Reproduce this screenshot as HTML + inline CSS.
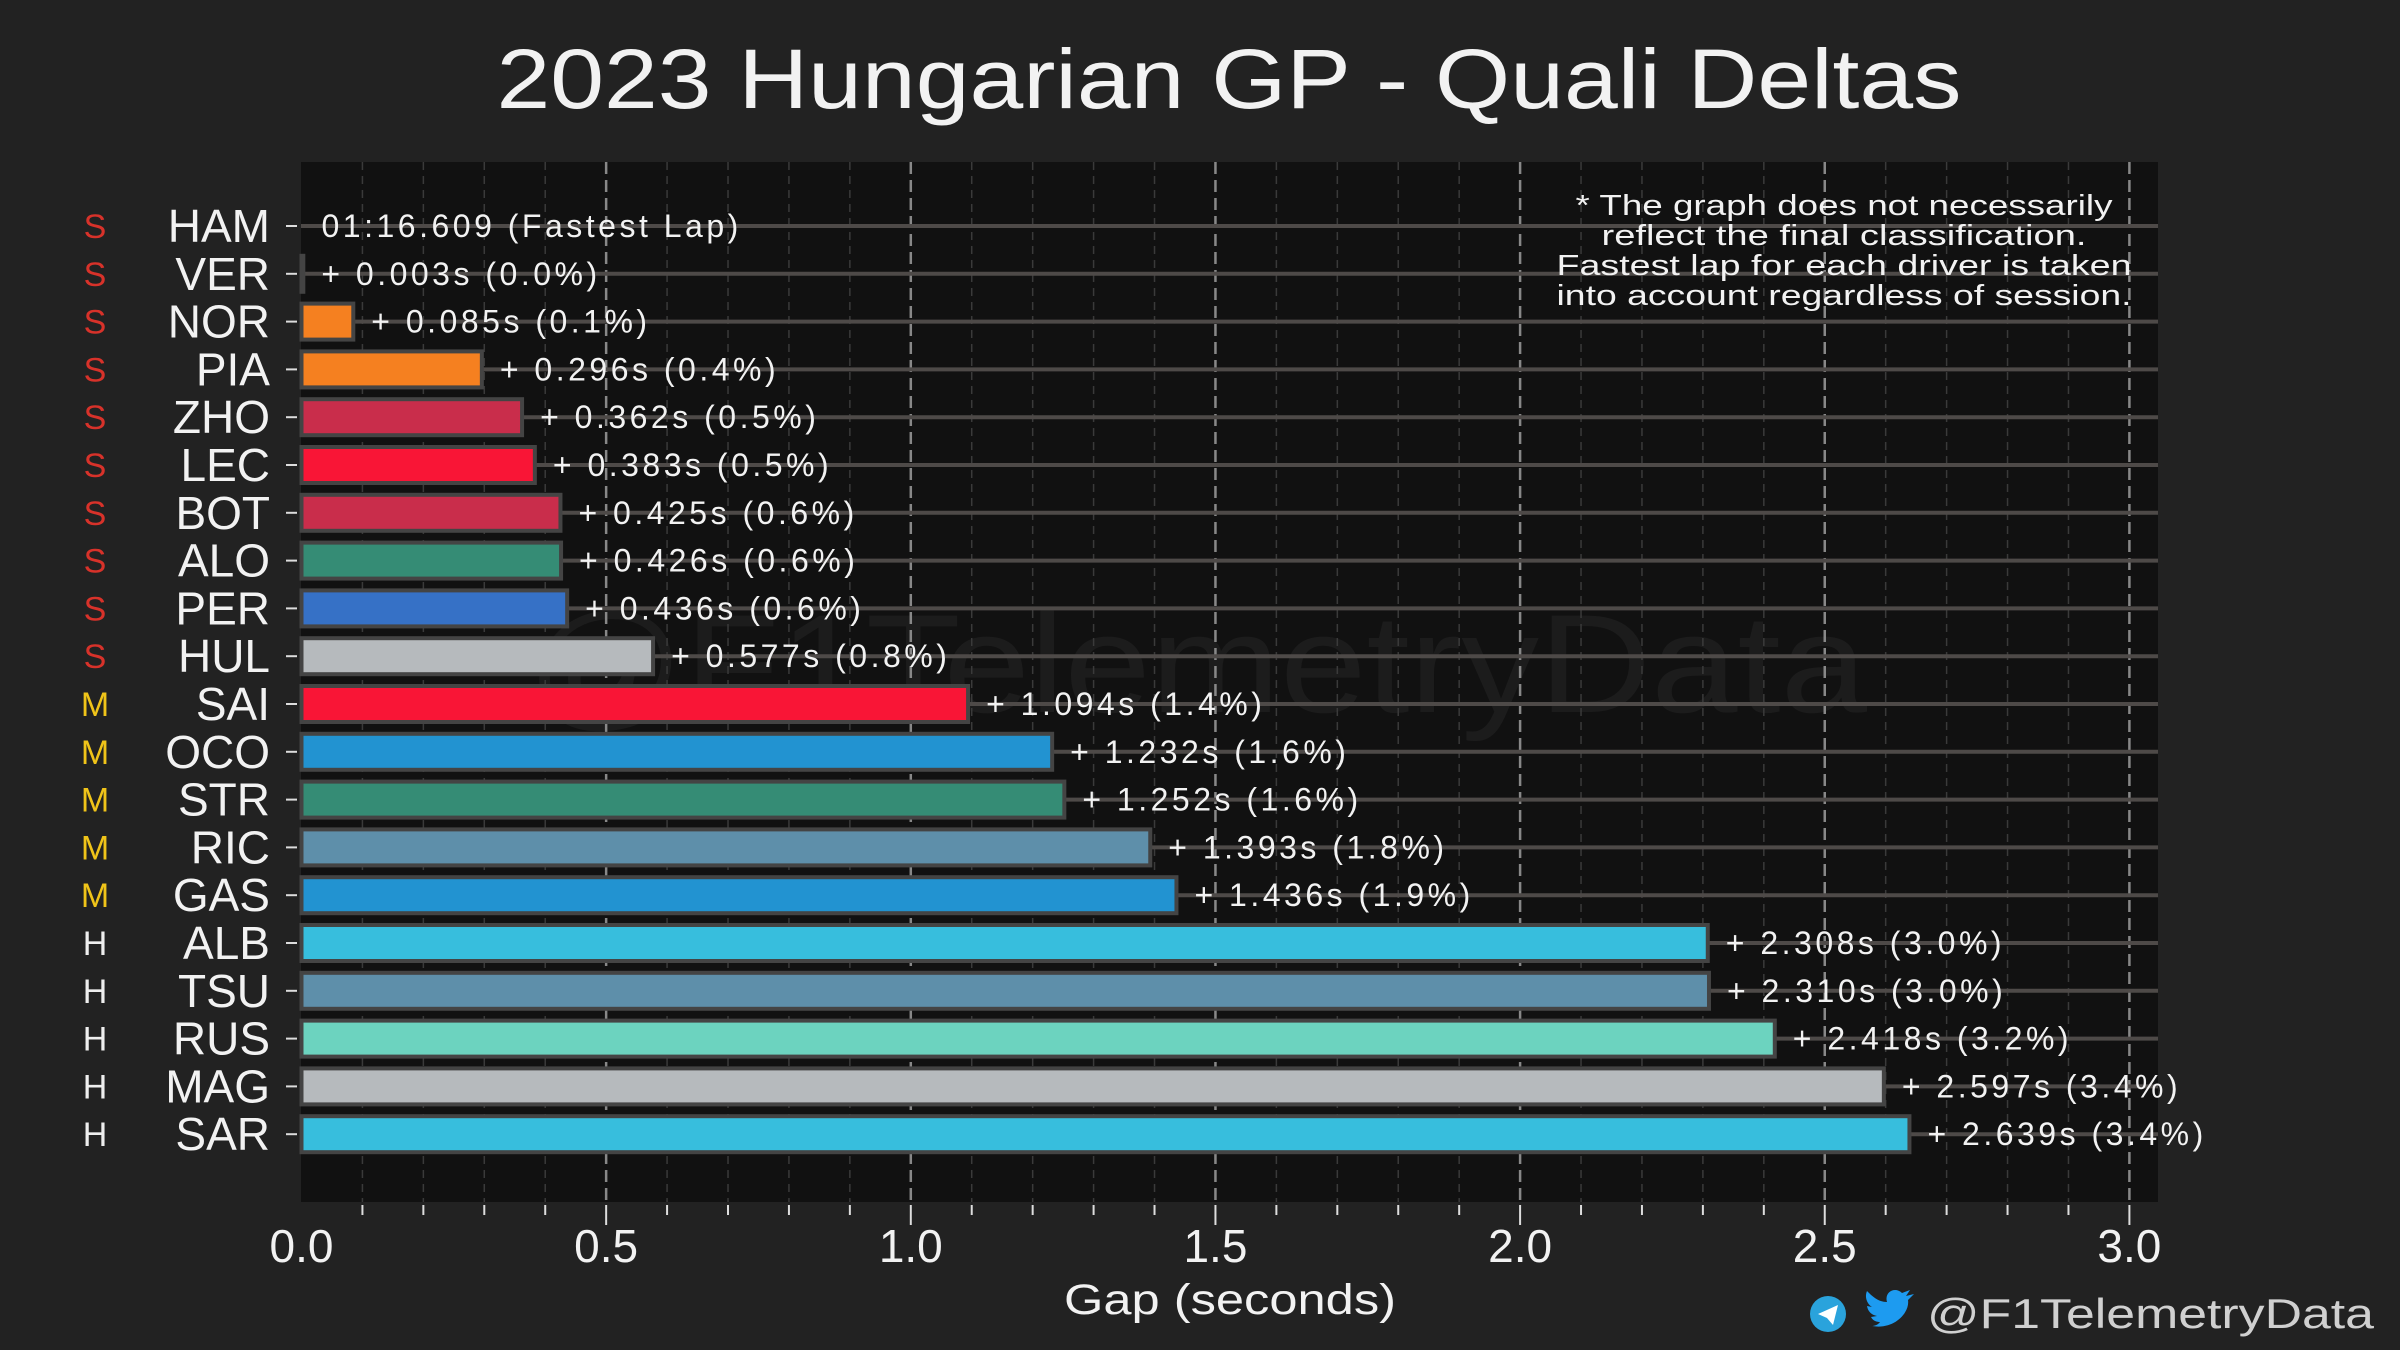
<!DOCTYPE html>
<html><head><meta charset="utf-8"><style>
html,body{margin:0;padding:0;background:#222;}
svg{display:block;font-family:"Liberation Sans",sans-serif;}
</style></head><body>
<svg id="chart" width="2400" height="1350" viewBox="0 0 2400 1350" xmlns="http://www.w3.org/2000/svg">
<rect x="0" y="0" width="2400" height="1350" fill="#222"/>
<text x="1229" y="108" text-anchor="middle" fill="#f2f2f2" font-size="84" textLength="1465" lengthAdjust="spacingAndGlyphs">2023 Hungarian GP - Quali Deltas</text>
<rect x="301" y="162" width="1857" height="1040" fill="#111"/>
<text x="1197" y="712" text-anchor="middle" fill="#1c1c1c" font-size="140" textLength="1340" lengthAdjust="spacingAndGlyphs">@F1TelemetryData</text>
<g id="grid"></g><g id="rows"></g><g id="axis"></g>
<g fill="#f2f2f2" font-size="29" text-anchor="middle">
<text x="1844" y="215" textLength="537" lengthAdjust="spacingAndGlyphs">* The graph does not necessarily</text>
<text x="1844" y="245" textLength="485" lengthAdjust="spacingAndGlyphs">reflect the final classification.</text>
<text x="1844" y="275" textLength="575" lengthAdjust="spacingAndGlyphs">Fastest lap for each driver is taken</text>
<text x="1844" y="305" textLength="575" lengthAdjust="spacingAndGlyphs">into account regardless of session.</text>
</g>
<text x="1230" y="1314" text-anchor="middle" fill="#f2f2f2" font-size="43" textLength="332" lengthAdjust="spacingAndGlyphs">Gap (seconds)</text>
<g><circle cx="1828" cy="1314" r="18" fill="#2aa3dc"/><path d="M1818 1314 L1838 1305 L1833 1325 L1827 1318 Z" fill="#fff"/></g>
<g><path d="M1872 1326 C1895 1330 1910 1312 1908 1300 L1914 1294 L1906 1296 L1910 1290 L1902 1293 C1895 1286 1884 1292 1887 1302 C1878 1302 1872 1296 1867 1291 C1864 1298 1868 1305 1872 1307 L1867 1306 C1868 1312 1872 1315 1877 1316 L1871 1317 C1873 1321 1877 1322 1880 1322 C1878 1325 1874 1326 1872 1326 Z" fill="#1d9bf0"/></g>
<text x="2374" y="1328" text-anchor="end" fill="#d0d0d0" font-size="42" textLength="447" lengthAdjust="spacingAndGlyphs">@F1TelemetryData</text>
</svg>
<script>
const drivers=["HAM","VER","NOR","PIA","ZHO","LEC","BOT","ALO","PER","HUL","SAI","OCO","STR","RIC","GAS","ALB","TSU","RUS","MAG","SAR"];
const gaps=[0,0.003,0.085,0.296,0.362,0.383,0.425,0.426,0.436,0.577,1.094,1.232,1.252,1.393,1.436,2.308,2.310,2.418,2.597,2.639];
const pcts=["","0.0%","0.1%","0.4%","0.5%","0.5%","0.6%","0.6%","0.6%","0.8%","1.4%","1.6%","1.6%","1.8%","1.9%","3.0%","3.0%","3.2%","3.4%","3.4%"];
const compounds=["S","S","S","S","S","S","S","S","S","S","M","M","M","M","M","H","H","H","H","H"];
const colors=["#00d2be","#3671c6","#f58020","#f58020","#c92d4b","#f91536","#c92d4b","#358c75","#3671c6","#b6babd","#f91536","#2293d1","#358c75","#5e8faa","#2293d1","#37bedd","#5e8faa","#6cd3bf","#b6babd","#37bedd"];
const xTicks=[0,0.5,1.0,1.5,2.0,2.5,3.0];
const fastestLap="01:16.609";
const NS="http://www.w3.org/2000/svg";
const X0=301.5,PX=609.3,Y0=226,DY=47.8,BH=36;
const xs=v=>X0+v*PX, ys=i=>Y0+i*DY;
function mk(t,a,p){const e=document.createElementNS(NS,t);for(const k in a)e.setAttribute(k,a[k]);p.appendChild(e);return e;}
const grid=document.getElementById('grid'),rows=document.getElementById('rows'),axis=document.getElementById('axis');
for(let k=1;k<=30;k++){const v=k/10;const major=k%5===0;
 const l=mk('line',{x1:xs(v),x2:xs(v),y1:162,y2:1202,stroke:major?'#888':'#3a3a3a','stroke-width':major?2.5:1.5,'stroke-dasharray':major?'12 6':'8 6'},grid);
 
 
 const t=mk('line',{x1:xs(v),x2:xs(v),y1:1205,y2:major?1225:1215,stroke:'#ddd','stroke-width':2},axis);
 
 }
xTicks.forEach(v=>{const t=mk('text',{x:xs(v),y:1262,'text-anchor':'middle',fill:'#f2f2f2','font-size':46},axis);t.textContent=v.toFixed(1);
 
 });
drivers.forEach((d,i)=>{const y=ys(i);
 const g=mk('g',{},rows);
 
 
 mk('line',{x1:301,x2:2158,y1:y,y2:y,stroke:'#4e4a48','stroke-width':4},g);
 if(gaps[i]>0){const b=mk('rect',{x:xs(0),y:y-BH/2,width:gaps[i]*PX,height:BH,fill:colors[i],stroke:'#444','stroke-width':4},g);
  
  }
 const lab=mk('text',{x:xs(gaps[i])+(i===0?20:18),y:y+11,fill:'#f2f2f2','font-size':32,'letter-spacing':3.5},g);
 lab.textContent=i===0?fastestLap+" (Fastest Lap)":"+ "+gaps[i].toFixed(3)+"s  ("+pcts[i]+")";
 lab.setAttribute('xml:space','preserve');
 
 
 const dl=mk('text',{x:270,y:y+16,'text-anchor':'end',fill:'#f2f2f2','font-size':46},g);dl.textContent=d;
 
 
 mk('line',{x1:286,x2:297,y1:y,y2:y,stroke:'#ddd','stroke-width':2},g);
 const c=compounds[i];
 const cl=mk('text',{x:95,y:y+12,'text-anchor':'middle',fill:c==='S'?'#d8322a':c==='M'?'#f0c419':'#eeeeee','font-size':34},g);cl.textContent=c;
 
 });
</script>
</body></html>
